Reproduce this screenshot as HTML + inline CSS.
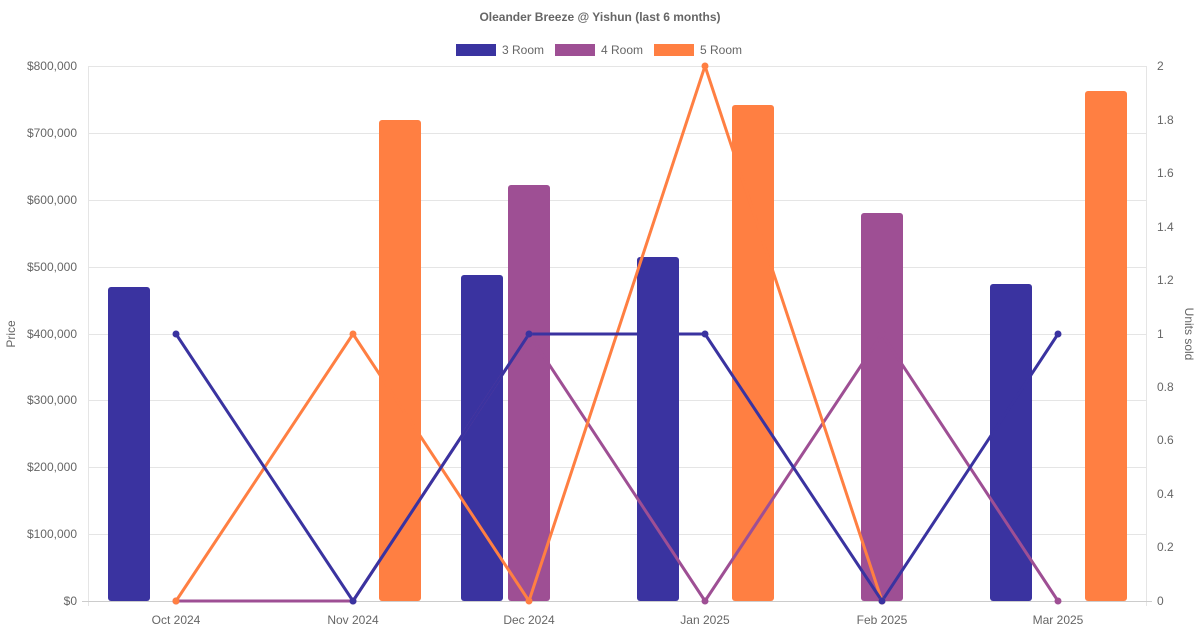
<!DOCTYPE html>
<html><head><meta charset="utf-8"><style>
body{margin:0;background:#fff}
svg{display:block;font-family:"Liberation Sans",Arial,sans-serif}
</style></head><body>
<svg width="1200" height="630" xmlns="http://www.w3.org/2000/svg">
<text x="600" y="21" text-anchor="middle" font-size="12" font-weight="bold" fill="#666">Oleander Breeze @ Yishun (last 6 months)</text>
<rect x="456" y="44" width="40" height="12" fill="#3a33a0"/><text x="502" y="54" font-size="12" fill="#666">3 Room</text>
<rect x="555" y="44" width="40" height="12" fill="#9e4f94"/><text x="601" y="54" font-size="12" fill="#666">4 Room</text>
<rect x="654" y="44" width="40" height="12" fill="#ff7f42"/><text x="700" y="54" font-size="12" fill="#666">5 Room</text>
<g stroke="#e5e5e5" stroke-width="1">
<line x1="88" y1="66.5" x2="1146" y2="66.5"/><line x1="88" y1="133.5" x2="1146" y2="133.5"/>
<line x1="88" y1="200.5" x2="1146" y2="200.5"/><line x1="88" y1="267.5" x2="1146" y2="267.5"/>
<line x1="88" y1="334.5" x2="1146" y2="334.5"/><line x1="88" y1="400.5" x2="1146" y2="400.5"/>
<line x1="88" y1="467.5" x2="1146" y2="467.5"/><line x1="88" y1="534.5" x2="1146" y2="534.5"/>
<line x1="88.5" y1="66" x2="88.5" y2="606"/><line x1="1146.5" y1="66" x2="1146.5" y2="606"/>
</g>
<line x1="82" y1="601.5" x2="1152" y2="601.5" stroke="#ccc"/>
<g font-size="12" fill="#666" text-anchor="end">
<text x="77" y="70">$800,000</text><text x="77" y="137">$700,000</text><text x="77" y="204">$600,000</text>
<text x="77" y="271">$500,000</text><text x="77" y="338">$400,000</text><text x="77" y="404">$300,000</text>
<text x="77" y="471">$200,000</text><text x="77" y="538">$100,000</text><text x="77" y="605">$0</text>
</g>
<g font-size="12" fill="#666">
<text x="1157" y="70">2</text><text x="1157" y="124">1.8</text><text x="1157" y="177">1.6</text>
<text x="1157" y="231">1.4</text><text x="1157" y="284">1.2</text><text x="1157" y="338">1</text>
<text x="1157" y="391">0.8</text><text x="1157" y="444">0.6</text><text x="1157" y="498">0.4</text>
<text x="1157" y="551">0.2</text><text x="1157" y="605">0</text>
</g>
<g font-size="12" fill="#666" text-anchor="middle">
<text x="176" y="624">Oct 2024</text><text x="353" y="624">Nov 2024</text><text x="529" y="624">Dec 2024</text>
<text x="705" y="624">Jan 2025</text><text x="882" y="624">Feb 2025</text><text x="1058" y="624">Mar 2025</text>
</g>
<text transform="translate(15,334) rotate(-90)" font-size="12" fill="#666" text-anchor="middle">Price</text>
<text transform="translate(1185,334) rotate(90)" font-size="12" fill="#666" text-anchor="middle">Units sold</text>
<g>
<rect x="108" y="287" width="42" height="314" rx="3" fill="#3a33a0"/>
<rect x="379" y="120" width="42" height="481" rx="3" fill="#ff7f42"/>
<rect x="461" y="275" width="42" height="326" rx="3" fill="#3a33a0"/>
<rect x="508" y="185" width="42" height="416" rx="3" fill="#9e4f94"/>
<rect x="637" y="257" width="42" height="344" rx="3" fill="#3a33a0"/>
<rect x="732" y="105" width="42" height="496" rx="3" fill="#ff7f42"/>
<rect x="861" y="213" width="42" height="388" rx="3" fill="#9e4f94"/>
<rect x="990" y="284" width="42" height="317" rx="3" fill="#3a33a0"/>
<rect x="1085" y="91" width="42" height="510" rx="3" fill="#ff7f42"/>
</g>
<g fill="none" stroke-width="3" stroke-linejoin="round">
<polyline stroke="#9e4f94" points="176,601 353,601 529,334 705,601 882,334 1058,601"/>
<polyline stroke="#ff7f42" points="176,601 353,334 529,601 705,66 882,601"/>
<polyline stroke="#3a33a0" points="176,334 353,601 529,334 705,334 882,601 1058,334"/>
</g>
<g fill="#9e4f94"><circle cx="176" cy="601" r="3.5"/><circle cx="353" cy="601" r="3.5"/><circle cx="529" cy="334" r="3.5"/><circle cx="705" cy="601" r="3.5"/><circle cx="882" cy="334" r="3.5"/><circle cx="1058" cy="601" r="3.5"/></g>
<g fill="#ff7f42"><circle cx="176" cy="601" r="3.5"/><circle cx="353" cy="334" r="3.5"/><circle cx="529" cy="601" r="3.5"/><circle cx="705" cy="66" r="3.5"/><circle cx="882" cy="601" r="3.5"/></g>
<g fill="#3a33a0"><circle cx="176" cy="334" r="3.5"/><circle cx="353" cy="601" r="3.5"/><circle cx="529" cy="334" r="3.5"/><circle cx="705" cy="334" r="3.5"/><circle cx="882" cy="601" r="3.5"/><circle cx="1058" cy="334" r="3.5"/></g>
</svg>
</body></html>
